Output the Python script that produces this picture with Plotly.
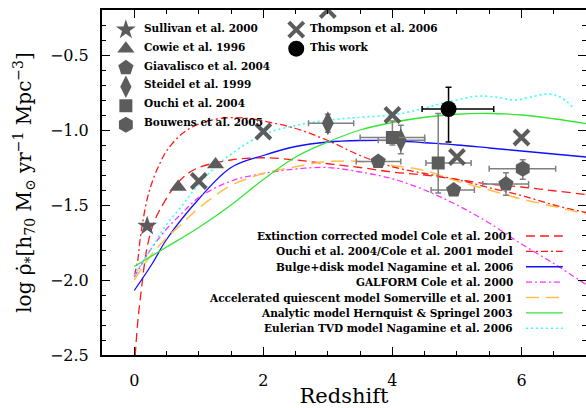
import plotly.graph_objects as go

# ---------------- data ----------------
# Observational points
sullivan_z = [0.2]
sullivan_y = [-1.64]

cowie_z = [0.68, 1.26]
cowie_y = [-1.38, -1.23]

giav_z = [3.78, 4.95, 5.76]
giav_y = [-1.21, -1.40, -1.36]
giav_xm = [0.34, 0.35, 0.36]
giav_xp = [0.35, 0.32, 0.35]
giav_ye = [0.0, 0.0, 0.075]

steidel_z = [3.0, 4.13]
steidel_y = [-0.955, -1.068]
steidel_xm = [0.30, 0.35]
steidel_xp = [0.40, 0.37]
steidel_yp = [0.06, 0.10]
steidel_ym = [0.06, 0.09]

ouchi_z = [4.0, 4.71]
ouchi_y = [-1.05, -1.22]
ouchi_xm = [0.50, 0.19]
ouchi_xp = [0.50, 0.51]
ouchi_yp = [0.11, 0.33]
ouchi_ym = [0.05, 0.20]

bouwens_z = [6.02]
bouwens_y = [-1.258]
bouwens_xm = [0.52]
bouwens_xp = [0.51]
bouwens_yp = [0.06]
bouwens_ym = [0.07]

thompson_z = [1.0, 2.0, 3.0, 4.0, 5.0, 6.0]
thompson_y = [-1.34, -1.01, -0.20, -0.90, -1.18, -1.05]

thiswork_z = [4.87]
thiswork_y = [-0.86]
thiswork_xm = [0.41]
thiswork_xp = [0.70]
thiswork_yp = [0.145]
thiswork_ym = [0.22]

obs_names_left = ["Sullivan et al. 2000", "Cowie et al. 1996", "Giavalisco et al. 2004",
                  "Steidel et al. 1999", "Ouchi et al. 2004", "Bouwens et al. 2005"]
obs_names_right = ["Thompson et al. 2006", "This work"]

# Model curves
ext_z = [0.0, 0.05, 0.1, 0.2, 0.3, 0.4, 0.6, 0.8, 1.0, 1.5, 2.0, 2.5, 3.0, 3.5, 4.0, 4.5, 5.0, 5.5, 6.0, 6.5, 7.0]
ext_y = [-2.6, -2.3, -2.1, -1.78, -1.62, -1.53, -1.39, -1.30, -1.25, -1.20, -1.185, -1.20, -1.225, -1.25, -1.28, -1.30, -1.33, -1.36, -1.38, -1.405, -1.43]

ouchim_z = [0.0, 0.05, 0.1, 0.2, 0.3, 0.4, 0.5, 0.7, 0.9, 1.1, 1.4, 1.7, 2.0, 2.5, 3.0, 3.5, 4.0, 4.5, 5.0, 5.5, 6.0, 6.5, 7.0]
ouchim_y = [-1.97, -1.88, -1.70, -1.46, -1.32, -1.22, -1.14, -1.04, -0.98, -0.945, -0.92, -0.92, -0.94, -0.99, -1.07, -1.17, -1.245, -1.29, -1.33, -1.385, -1.436, -1.50, -1.55]

bulge_z = [0.0, 0.28, 0.5, 1.0, 1.5, 2.0, 2.5, 3.0, 3.5, 4.0, 4.5, 5.0, 5.5, 6.0, 6.5, 7.0]
bulge_y = [-2.07, -1.89, -1.73, -1.46, -1.25, -1.17, -1.11, -1.08, -1.07, -1.07, -1.085, -1.10, -1.12, -1.14, -1.16, -1.18]

galform_z = [0.0, 0.25, 0.5, 0.75, 1.0, 1.5, 2.0, 2.5, 3.0, 3.5, 4.0, 4.5, 5.0, 5.5, 6.0, 6.5, 7.0]
galform_y = [-1.98, -1.80, -1.66, -1.55, -1.45, -1.34, -1.29, -1.26, -1.25, -1.28, -1.325, -1.40, -1.50, -1.62, -1.76, -1.89, -2.03]

somer_z = [0.0, 0.25, 0.5, 0.75, 1.0, 1.5, 2.0, 2.5, 3.0, 3.5, 4.0, 4.5, 5.0, 5.5, 6.0, 6.5, 7.0]
somer_y = [-2.0, -1.84, -1.72, -1.62, -1.52, -1.37, -1.29, -1.245, -1.21, -1.21, -1.236, -1.27, -1.34, -1.40, -1.46, -1.51, -1.56]

hern_z = [0.0, 0.5, 1.0, 1.5, 2.0, 2.5, 3.0, 3.5, 4.0, 4.5, 5.0, 5.5, 6.0, 6.5, 7.0]
hern_y = [-1.91, -1.78, -1.65, -1.50, -1.33, -1.18, -1.08, -1.00, -0.95, -0.915, -0.895, -0.89, -0.90, -0.925, -0.957]

tvd_z = [0.0, 0.25, 0.5, 0.75, 1.0, 1.25, 1.5, 2.0, 2.5, 3.0, 3.5, 4.0, 4.4, 4.7, 5.0, 5.3, 5.6, 5.9, 6.2, 6.4, 6.6, 6.8]
tvd_y = [-1.97, -1.80, -1.63, -1.50, -1.36, -1.25, -1.16, -1.03, -0.97, -0.935, -0.915, -0.90, -0.865, -0.83, -0.80, -0.775, -0.78, -0.80, -0.775, -0.76, -0.78, -0.85]

model_names = [
    "Extinction corrected model Cole et al. 2001",
    "Ouchi et al. 2004/Cole et al. 2001 model",
    "Bulge+disk model Nagamine et al. 2006",
    "GALFORM Cole et al. 2000",
    "Accelerated quiescent model Somerville et al. 2001",
    "Analytic model Hernquist & Springel 2003",
    "Eulerian TVD model Nagamine et al. 2006",
]

x_tickvals = [0, 2, 4, 6]
y_tickvals = [-2.5, -2.0, -1.5, -1.0, -0.5]

# ---------------- styles ----------------
GRAY = "#5c5c5c"
EGRAY = "#808080"
LEGFONT = dict(family="DejaVu Serif", size=10.5, color="black", weight=600)
TICKFONT = dict(family="DejaVu Serif", size=16, color="black")

model_styles = [
    dict(color="#ff1a1a", dash="9px,5px", width=1.3),
    dict(color="#ff1a1a", dash="7px,3px,2px,3px", width=1.3),
    dict(color="#1010ff", dash="solid", width=1.3),
    dict(color="#ff33ff", dash="6px,3px,2px,3px", width=1.3),
    dict(color="#ffc04a", dash="13px,7px", width=1.5),
    dict(color="#33e633", dash="solid", width=1.3),
    dict(color="#33ffff", dash="2px,3px", width=1.6),
]
model_data = [(ext_z, ext_y), (ouchim_z, ouchim_y), (bulge_z, bulge_y), (galform_z, galform_y),
              (somer_z, somer_y), (hern_z, hern_y), (tvd_z, tvd_y)]

fig = go.Figure()

for (zz, yy), st, nm in zip(model_data, model_styles, model_names):
    fig.add_trace(go.Scatter(x=zz, y=yy, mode="lines", line=st, name=nm,
                             showlegend=False, line_shape="spline"))


def ebar(plus, minus, color=EGRAY):
    return dict(type="data", array=plus, arrayminus=minus, color=color, thickness=1.5, width=3, visible=True)


# legend keys carry a blank label; the label text is drawn as annotations next to them
fig.add_trace(go.Scatter(x=sullivan_z, y=sullivan_y, mode="markers", name=" ",
                         marker=dict(symbol="star", size=15, color=GRAY), legend="legend"))
fig.add_trace(go.Scatter(x=cowie_z, y=cowie_y, mode="markers", name=" ",
                         marker=dict(symbol="triangle-up", size=15, color=GRAY), legend="legend"))
fig.add_trace(go.Scatter(x=giav_z, y=giav_y, mode="markers", name=" ",
                         marker=dict(symbol="pentagon", size=16, color=GRAY),
                         error_x=ebar(giav_xp, giav_xm), error_y=ebar(giav_ye, giav_ye), legend="legend"))
fig.add_trace(go.Scatter(x=steidel_z, y=steidel_y, mode="markers", name=" ",
                         marker=dict(symbol="diamond-tall", size=17, color=GRAY),
                         error_x=ebar(steidel_xp, steidel_xm), error_y=ebar(steidel_yp, steidel_ym), legend="legend"))
fig.add_trace(go.Scatter(x=ouchi_z, y=ouchi_y, mode="markers", name=" ",
                         marker=dict(symbol="square", size=13, color=GRAY),
                         error_x=ebar(ouchi_xp, ouchi_xm), error_y=ebar(ouchi_yp, ouchi_ym), legend="legend"))
fig.add_trace(go.Scatter(x=bouwens_z, y=bouwens_y, mode="markers", name=" ",
                         marker=dict(symbol="hexagon", size=16, color=GRAY),
                         error_x=ebar(bouwens_xp, bouwens_xm), error_y=ebar(bouwens_yp, bouwens_ym), legend="legend"))
fig.add_trace(go.Scatter(x=thompson_z, y=thompson_y, mode="markers", name=" ",
                         marker=dict(symbol="x-thin", size=15, color=GRAY, line=dict(color=GRAY, width=4)),
                         legend="legend2"))
fig.add_trace(go.Scatter(x=thiswork_z, y=thiswork_y, mode="markers", name=" ",
                         marker=dict(symbol="circle", size=16, color="black"),
                         error_x=ebar(thiswork_xp, thiswork_xm, "black"),
                         error_y=ebar(thiswork_yp, thiswork_ym, "black"), legend="legend2"))

# text of the symbol legends
row0 = 0.9478
rowstep = 0.0545
for i, nm in enumerate(obs_names_left):
    fig.add_annotation(x=0.0826, y=row0 - i * rowstep, xref="paper", yref="paper", text=nm,
                       showarrow=False, xanchor="left", yanchor="middle", font=LEGFONT)
for i, nm in enumerate(obs_names_right):
    fig.add_annotation(x=0.425, y=row0 - i * rowstep, xref="paper", yref="paper", text=nm,
                       showarrow=False, xanchor="left", yanchor="middle", font=LEGFONT)

# Model legend (text on the left, line sample on the right)
leg_y0 = 0.345
leg_dy = 0.0446
for i, (nm, st) in enumerate(zip(model_names, model_styles)):
    yy = leg_y0 - i * leg_dy
    fig.add_annotation(x=0.853, y=yy, xref="paper", yref="paper", text=nm, showarrow=False,
                       xanchor="right", yanchor="middle", font=LEGFONT)
    fig.add_shape(type="line", xref="paper", yref="paper", x0=0.876, x1=0.952, y0=yy, y1=yy,
                  line=dict(color=st["color"], dash=st["dash"], width=st["width"]))

axis_common = dict(showline=True, linecolor="black", linewidth=2, mirror="ticks",
                   ticks="inside", ticklen=8, tickwidth=1.3, tickcolor="black",
                   showgrid=False, zeroline=False, tickfont=TICKFONT, automargin=False)

fig.update_layout(
    width=586, height=408,
    margin=dict(l=102, r=0, t=10, b=53),
    plot_bgcolor="white", paper_bgcolor="white",
    showlegend=True,
    legend=dict(x=0.008, y=0.985, xanchor="left", yanchor="top", font=dict(family="DejaVu Serif", size=11),
                bgcolor="rgba(0,0,0,0)", itemsizing="trace", tracegroupgap=0),
    legend2=dict(x=0.36, y=0.985, xanchor="left", yanchor="top", font=dict(family="DejaVu Serif", size=11),
                 bgcolor="rgba(0,0,0,0)", itemsizing="trace"),
    xaxis=dict(range=[-0.5, 7], tickvals=x_tickvals, ticktext=[str(v) for v in x_tickvals],
               minor=dict(dtick=0.5, tick0=0, ticks="inside", ticklen=4, tickcolor="black"),
               ticklabelstandoff=10,
               title=dict(text="Redshift", font=dict(family="DejaVu Serif", size=21, color="black"),
                          standoff=24),
               **axis_common),
    yaxis=dict(range=[-2.5, -0.2], tickvals=y_tickvals, tickformat=".1f",
               minor=dict(dtick=0.1, tick0=-2.5, ticks="inside", ticklen=4, tickcolor="black"),
               ticklabelstandoff=8,
               title=dict(text="log ρ̇<sub>*</sub>[h<sub>70</sub> M<sub>⊙</sub> yr<sup>−1</sup> Mpc<sup>−3</sup>]",
                          font=dict(family="DejaVu Serif", size=20, color="black"), standoff=13),
               **axis_common),
)

fig.write_html("out.html")
